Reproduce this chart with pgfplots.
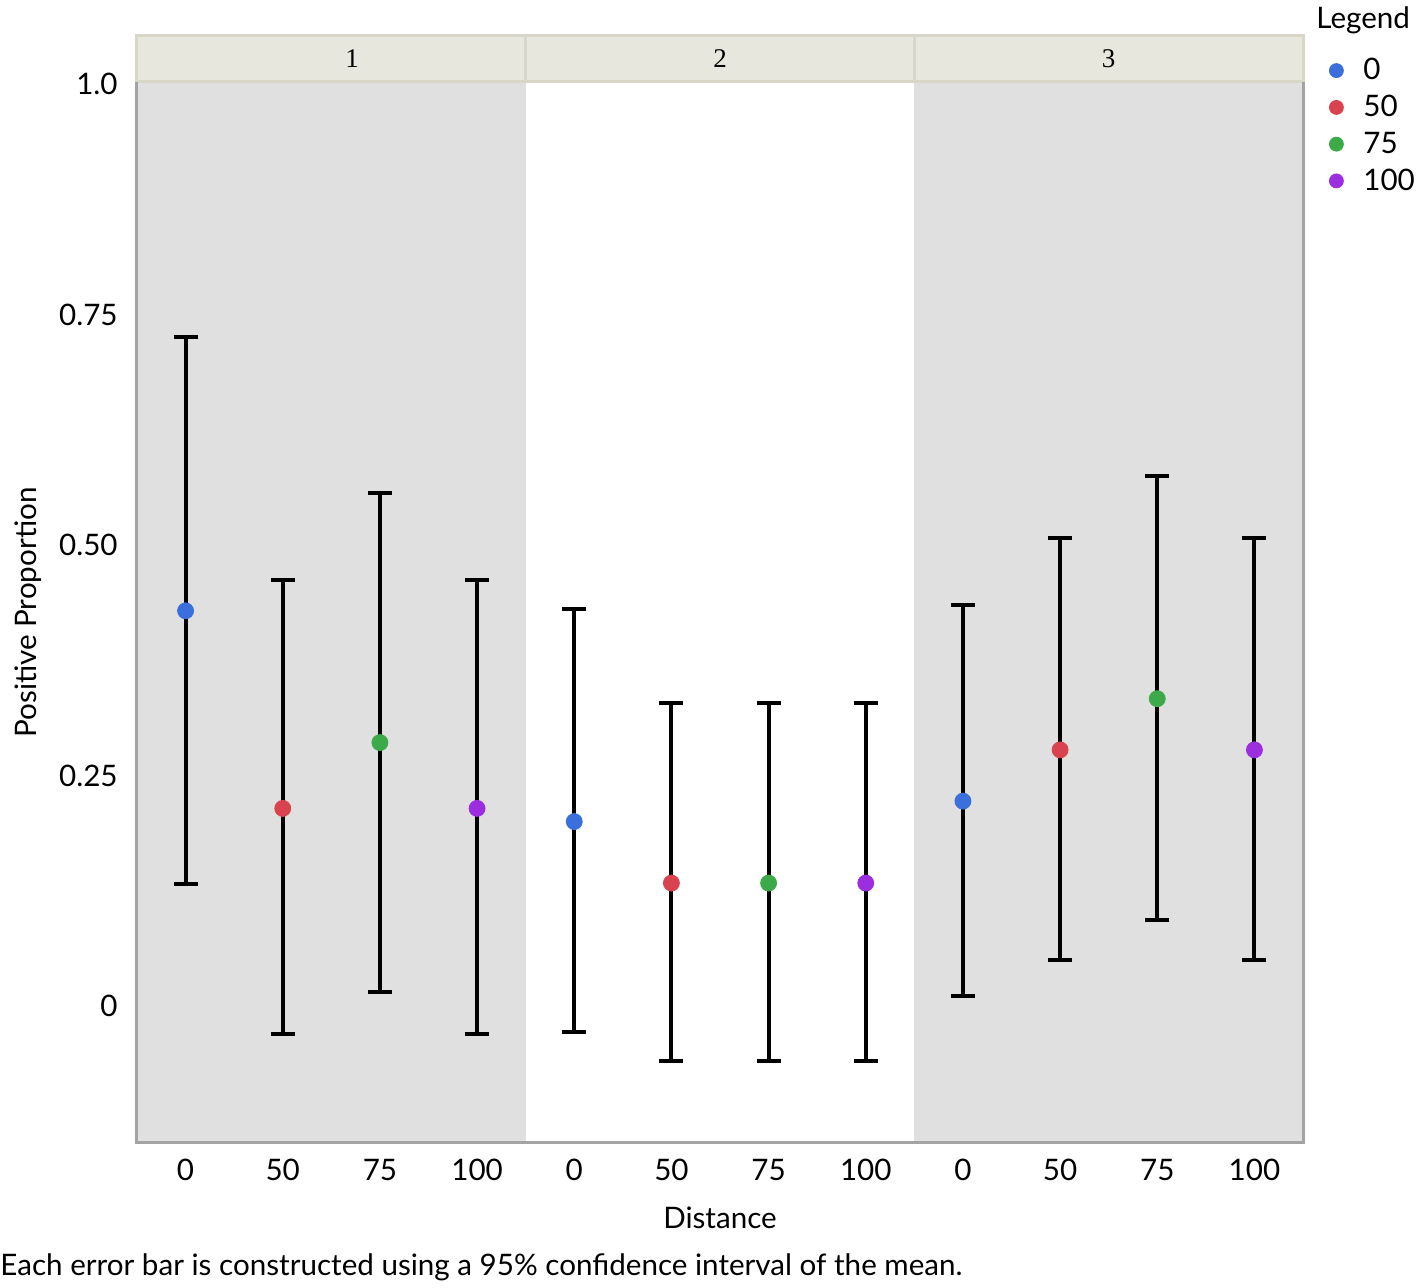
\documentclass[border=0pt]{standalone}
\usepackage{pgfplots}
\pgfplotsset{compat=1.18}
\usepackage{fontspec}
\setmainfont{Lato}
\newfontfamily\seriffont{Liberation Serif}
\definecolor{cblue}{HTML}{3B6FDB}
\definecolor{cred}{HTML}{D9434F}
\definecolor{cgreen}{HTML}{3DAA4A}
\definecolor{cpurple}{HTML}{9B2FE0}
\definecolor{panelgray}{HTML}{E0E0E0}
\definecolor{framegray}{HTML}{A3A3A3}
\definecolor{stripfill}{HTML}{E8E7DD}
\definecolor{stripborder}{HTML}{D8D6C8}
\newcommand{\fs}{\fontsize{14.8}{17}\selectfont}

\pgfplotstableread{
x y ep em
0 0.4286 0.2970 0.2963
4 0.2000 0.2306 0.2282
8 0.2222 0.2127 0.2114
}\dzero
\pgfplotstableread{
x y ep em
1 0.2143 0.2477 0.2447
5 0.1333 0.1953 0.1930
9 0.2778 0.2298 0.2279
}\dfifty
\pgfplotstableread{
x y ep em
2 0.2857 0.2707 0.2705
6 0.1333 0.1953 0.1930
10 0.3333 0.2415 0.2400
}\dseventyfive
\pgfplotstableread{
x y ep em
3 0.2143 0.2477 0.2447
7 0.1333 0.1953 0.1930
11 0.2778 0.2298 0.2279
}\dhundred

\begin{document}
\begin{tikzpicture}
\useasboundingbox (-68.5pt,-72.5pt) rectangle (640pt,571.5pt);
\begin{axis}[
  scale only axis, width=583pt, height=530.5pt,
  at={(0pt,0pt)}, anchor=south west,
  xmin=-0.5, xmax=11.5, ymin=-0.1486, ymax=1.0022,
  axis line style={draw=none},
  tick style={draw=none},
  clip=false,
  xtick={0,1,2,3,4,5,6,7,8,9,10,11},
  xticklabels={0,50,75,100,0,50,75,100,0,50,75,100},
  ytick={0,0.25,0.5,0.75,1},
  yticklabels={0,0.25,0.50,0.75,1.0},
  /pgf/number format/assume math mode=true,
  xticklabel style={font=\fs, anchor=base, yshift=-19pt},
  yticklabel style={font=\fs, anchor=east, inner sep=0pt, xshift=-9.5pt},
  xlabel={Distance}, ylabel={Positive Proportion},
  xlabel style={font=\fs, at={(axis description cs:0.5,0)}, anchor=center, yshift=-37.5pt},
  ylabel style={font=\fs, at={(axis description cs:-0.0935,0.5)}, anchor=center},
  legend style={draw=none, fill=none, font=\fs, at={(1.0223,1.0264)}, anchor=north west,
    inner sep=0pt, row sep=2.2pt, nodes={inner sep=2pt}},
  legend cell align=left,
  legend image code/.code={\draw[#1, mark size=3.5pt] plot coordinates {(0pt,0pt)};},
  /tikz/every odd column/.append style={column sep=8pt},
  error bars/error bar style={black, line width=2pt},
  error bars/error mark options={black, line width=2pt, mark size=6pt, rotate=90},
]
% panel backgrounds
\fill[panelgray] (axis cs:-0.5,-0.1486) rectangle (axis cs:3.5,1.0022);
\fill[panelgray] (axis cs:7.5,-0.1486) rectangle (axis cs:11.5,1.0022);
\draw[black!13, line width=0.5pt] (axis cs:3.5,-0.1486) -- (axis cs:3.5,1.0022);
\draw[black!13, line width=0.5pt] (axis cs:7.5,-0.1486) -- (axis cs:7.5,1.0022);
% strips
\filldraw[fill=stripfill, draw=stripborder, line width=1.5pt] (axis cs:-0.5,1.0022) rectangle (axis cs:3.5,1.0531);
\filldraw[fill=stripfill, draw=stripborder, line width=1.5pt] (axis cs:3.5,1.0022) rectangle (axis cs:7.5,1.0531);
\filldraw[fill=stripfill, draw=stripborder, line width=1.5pt] (axis cs:7.5,1.0022) rectangle (axis cs:11.5,1.0531);
\node[font=\seriffont\fontsize{13.5}{15}\selectfont] at (axis cs:1.713,1.0276) {1};
\node[font=\seriffont\fontsize{13.5}{15}\selectfont] at (axis cs:5.5,1.0276) {2};
\node[font=\seriffont\fontsize{13.5}{15}\selectfont] at (axis cs:9.5,1.0276) {3};
% frame
\draw[framegray, line width=1.5pt] (axis cs:-0.5,1.0022) -- (axis cs:-0.5,-0.1486) -- (axis cs:11.5,-0.1486) -- (axis cs:11.5,1.0022);

\addplot[only marks, mark=*, color=cblue, mark options={fill=cblue, draw=cblue}, mark size=4pt,
  error bars/.cd, y dir=both, y explicit]
  table[x=x, y=y, y error plus=ep, y error minus=em] {\dzero};
\addlegendentry{0}
\addplot[only marks, mark=*, color=cred, mark options={fill=cred, draw=cred}, mark size=4pt,
  error bars/.cd, y dir=both, y explicit]
  table[x=x, y=y, y error plus=ep, y error minus=em] {\dfifty};
\addlegendentry{50}
\addplot[only marks, mark=*, color=cgreen, mark options={fill=cgreen, draw=cgreen}, mark size=4pt,
  error bars/.cd, y dir=both, y explicit]
  table[x=x, y=y, y error plus=ep, y error minus=em] {\dseventyfive};
\addlegendentry{75}
\addplot[only marks, mark=*, color=cpurple, mark options={fill=cpurple, draw=cpurple}, mark size=4pt,
  error bars/.cd, y dir=both, y explicit]
  table[x=x, y=y, y error plus=ep, y error minus=em] {\dhundred};
\addlegendentry{100}
\end{axis}
\node[anchor=west, font=\fs, inner sep=0pt] at (589.5pt,561.5pt) {Legend};
\node[anchor=west, font=\fs, inner sep=0pt] at (-68.5pt,-62pt) {Each error bar is constructed using a 95\% confidence interval of the mean.};
\end{tikzpicture}
\end{document}
